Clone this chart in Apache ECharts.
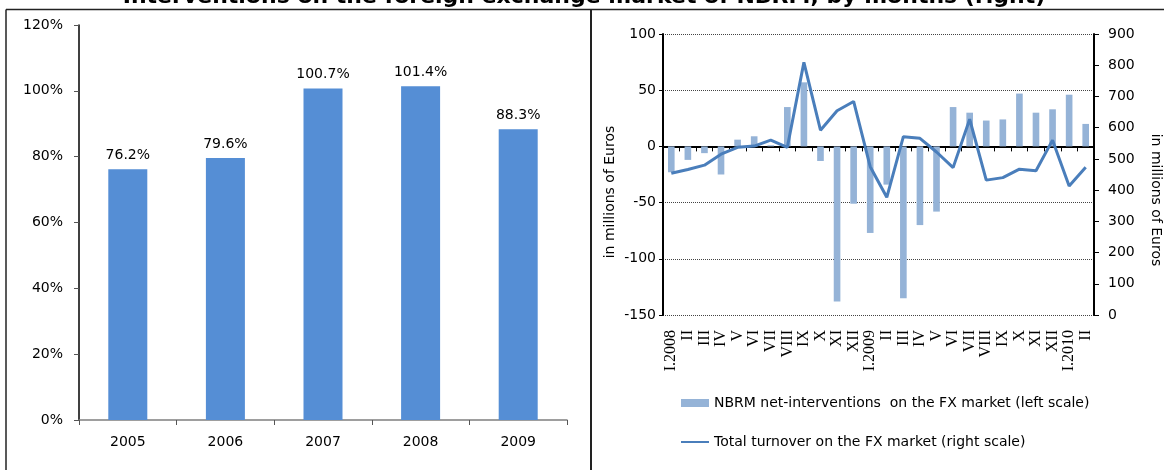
<!DOCTYPE html>
<html><head><meta charset="utf-8">
<script src="https://cdn.jsdelivr.net/npm/echarts@6/dist/echarts.min.js"></script>
<style>html,body{margin:0;padding:0;background:#fff}#c{width:1164px;height:470px}</style>
</head><body><div id="c"></div>
<script>
const titleText = 'Interventions on the foreign exchange market of NBRM, by months (right)';
const yearCats = ['2005', '2006', '2007', '2008', '2009'];
const yearValues = [76.2, 79.6, 100.7, 101.4, 88.3];
const monthCats = ['I.2008','II','III','IV','V','VI','VII','VIII','IX','X','XI','XII',
                   'I.2009','II','III','IV','V','VI','VII','VIII','IX','X','XI','XII',
                   'I.2010','II'];
const interventions = [-23,-12,-6,-25,6,9,1,35,57,-13,-138,-51,
                       -77,-34,-135,-70,-58,35,30,23,24,47,30,33,
                       46,20];
const turnover = [454,466,480,515,537,541,560,537,809,592,654,684,
                  475,377,571,566,522,472,627,432,440,467,462,560,
                  413,473];
const axisNameText = 'in millions of Euros';
const legendBar = 'NBRM net-interventions  on the FX market (left scale)';
const legendLine = 'Total turnover on the FX market (right scale)';

const FONT = 'DejaVu Sans';
const chart = echarts.init(document.getElementById('c'), null, {renderer: 'canvas'});
chart.setOption({
  animation: false,
  textStyle: {fontFamily: FONT, color: '#000'},
  grid: [
    {left: 79, top: 25, right: 597, bottom: 50},
    {left: 663, top: 34, right: 70, bottom: 155}
  ],
  xAxis: [
    {gridIndex: 0, type: 'category', data: yearCats,
     axisLine: {lineStyle: {color: '#7f7f7f', width: 1.5}},
     axisTick: {show: true, length: 5, lineStyle: {color: '#555'}},
     axisLabel: {fontSize: 14, color: '#000', margin: 15, fontFamily: FONT}},
    {gridIndex: 1, type: 'category', data: monthCats,
     axisLine: {onZero: true, onZeroAxisIndex: 1, lineStyle: {color: '#000', width: 2}},
     axisTick: {show: true, length: 5, interval: 0, lineStyle: {color: '#000', width: 1}},
     axisLabel: {show: false}},
    {gridIndex: 1, type: 'category', data: monthCats, position: 'bottom',
     axisLine: {show: false, onZero: false},
     axisTick: {show: false},
     axisLabel: {rotate: 90, interval: 0, margin: 15, fontSize: 16,
                 fontFamily: 'Liberation Serif', color: '#000'}}
  ],
  yAxis: [
    {gridIndex: 0, type: 'value', min: 0, max: 120, interval: 20,
     axisLine: {show: true, lineStyle: {color: '#000', width: 1.5}},
     axisTick: {show: true, length: 5, lineStyle: {color: '#555'}},
     axisLabel: {formatter: '{value}%', fontSize: 14, margin: 16, color: '#000', fontFamily: FONT},
     splitLine: {show: false}},
    {gridIndex: 1, type: 'value', min: -150, max: 100, interval: 50, position: 'left',
     axisLine: {show: true, onZero: false, lineStyle: {color: '#000', width: 2}},
     axisTick: {show: true, length: 4, lineStyle: {color: '#000'}},
     axisLabel: {fontSize: 14, margin: 7, color: '#000', fontFamily: FONT},
     splitLine: {show: true, lineStyle: {type: 'dotted', color: '#444', width: 1}}},
    {gridIndex: 1, type: 'value', min: 0, max: 900, interval: 100, position: 'right',
     axisLine: {show: true, onZero: false, lineStyle: {color: '#000', width: 2}},
     axisTick: {show: true, length: 5, lineStyle: {color: '#000'}},
     axisLabel: {fontSize: 14, margin: 14, color: '#000', fontFamily: FONT},
     splitLine: {show: false}}
  ],
  legend: {
    orient: 'vertical', left: 675, top: 391, itemWidth: 28, itemHeight: 8, itemGap: 25,
    textStyle: {fontSize: 14, color: '#000', fontFamily: FONT},
    data: [{name: legendBar, icon: 'rect'},
           {name: legendLine, itemStyle: {opacity: 0, color: 'rgba(0,0,0,0)', borderWidth: 0}}]
  },
  series: [
    {type: 'bar', xAxisIndex: 0, yAxisIndex: 0, data: yearValues, barWidth: 39,
     itemStyle: {color: '#558ED5'},
     label: {show: true, position: 'top', distance: 7, fontSize: 14, color: '#000', fontFamily: FONT,
             formatter: p => p.value.toFixed(1) + '%'}},
    {name: legendBar, type: 'bar', xAxisIndex: 1, yAxisIndex: 1, data: interventions,
     barWidth: '40%', itemStyle: {color: '#95B3D7'}},
    {name: legendLine, type: 'line', xAxisIndex: 1, yAxisIndex: 2, data: turnover,
     symbol: 'none', lineStyle: {color: '#4A7EBB', width: 3}, itemStyle: {color: '#4A7EBB'}, z: 5}
  ],
  graphic: [
    {type: 'line', shape: {x1: 6, y1: 9.5, x2: 1164, y2: 9.5}, style: {stroke: '#222', lineWidth: 1.5}},
    {type: 'line', shape: {x1: 6, y1: 9.5, x2: 6, y2: 470}, style: {stroke: '#222', lineWidth: 1.5}},
    {type: 'line', shape: {x1: 591, y1: 9.5, x2: 591, y2: 470}, style: {stroke: '#222', lineWidth: 2}},
    {type: 'text', x: 584, y: -3, style: {text: titleText, fontFamily: FONT, fontWeight: 'bold', fontSize: 22,
      fill: '#000', align: 'center', verticalAlign: 'middle'}},
    {type: 'text', x: 610, y: 192, rotation: Math.PI / 2, style: {text: axisNameText, fontFamily: FONT,
      fontSize: 14, fill: '#000', align: 'center', verticalAlign: 'middle'}},
    {type: 'text', x: 1156, y: 200, rotation: -Math.PI / 2, style: {text: axisNameText, fontFamily: FONT,
      fontSize: 14, fill: '#000', align: 'center', verticalAlign: 'middle'}}
  ]
});
</script></body></html>
